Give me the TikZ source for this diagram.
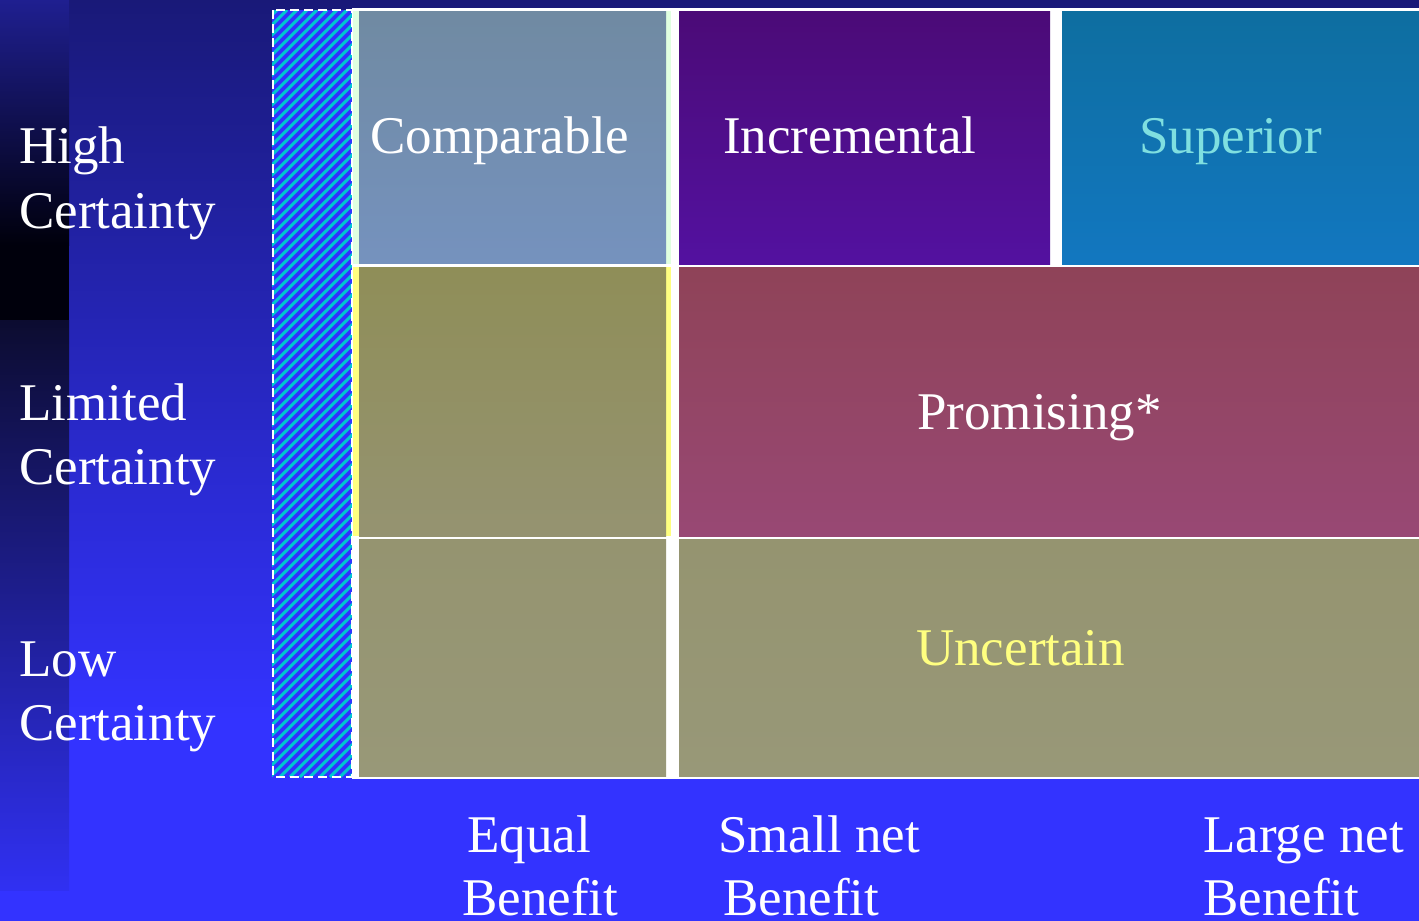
\documentclass[tikz,border=0pt]{standalone}
\usepackage{fontspec}
\setmainfont{Liberation Serif}
\begin{document}
\definecolor{bgtop}{HTML}{191978}
\definecolor{bgbot}{HTML}{3333FF}
\definecolor{striptop}{HTML}{1F1F90}
\definecolor{stripdark}{HTML}{00000C}
\definecolor{stripmid}{HTML}{0C0C30}
\definecolor{hatchcyan}{HTML}{00C8D0}
\definecolor{comptop}{HTML}{708AA2}
\definecolor{compbot}{HTML}{7592BE}
\definecolor{incrtop}{HTML}{4B0B77}
\definecolor{incrbot}{HTML}{5311A0}
\definecolor{suptop}{HTML}{0E6EA0}
\definecolor{supbot}{HTML}{1277C0}
\definecolor{promtop}{HTML}{8F4358}
\definecolor{prombot}{HTML}{984874}
\definecolor{olivetop}{HTML}{8F8E58}
\definecolor{olivebot}{HTML}{959371}
\definecolor{lowtop}{HTML}{959470}
\definecolor{lowbot}{HTML}{989878}
\definecolor{lightgreen}{HTML}{E0FFE0}
\definecolor{paleyellow}{HTML}{FFFF80}
\definecolor{supertext}{HTML}{7FDFE0}
\begin{tikzpicture}[x=1pt,y=-1pt,
  lbl/.style={anchor=base west, inner sep=0pt, font=\fontsize{53}{65}\selectfont},
  celltext/.style={lbl, text=white}]
\useasboundingbox (0,0) rectangle (1419,921);
% background gradient
\shade[top color=bgtop, bottom color=bgbot] (0,0) rectangle (1419,720);
\fill[bgbot] (0,720) rectangle (1419,921);
% darker left strip
\shade[top color=striptop, bottom color=stripdark] (0,0) rectangle (69,245);
\fill[stripdark] (0,245) rectangle (69,320);
\shade[top color=stripmid, bottom color=bgbot!95!black] (0,320) rectangle (69,890);
% hatched column
\begin{scope}
  \clip (272,10) rectangle (352,777);
  \fill[bgbot] (272,10) rectangle (352,777);
  \foreach \a in {-500,-490,...,360}
    \draw[hatchcyan, line width=3pt] (\a,777) -- ++(767,-767);
\end{scope}
\draw[white, line width=2.5pt, dash pattern=on 9pt off 5pt] (273,10) rectangle (352,777);
% table backing
\fill[white] (352,8) rectangle (1419,779);
% first column
\fill[lightgreen] (353,11) rectangle (671,264);
\shade[top color=comptop, bottom color=compbot] (359,11) rectangle (666,263);
\fill[paleyellow] (353,267) rectangle (671,536);
\shade[top color=olivetop, bottom color=olivebot] (359,267) rectangle (666,536);
\shade[top color=lowtop, bottom color=lowbot] (359,539) rectangle (666,776);
% remaining cells
\shade[top color=incrtop, bottom color=incrbot] (679,11) rectangle (1050,264);
\shade[top color=suptop, bottom color=supbot] (1062,11) rectangle (1419,264);
\shade[top color=promtop, bottom color=prombot] (679,267) rectangle (1419,536);
\shade[top color=lowtop, bottom color=lowbot] (679,539) rectangle (1419,776);
% cell texts
\node[celltext] (comparable) at (370,153) {Comparable};
\node[celltext] (incremental) at (723,153) {Incremental};
\node[lbl, text=supertext] (superior) at (1139,153) {Superior};
\node[celltext] (promising) at (917,429) {Promising*};
\node[lbl, text=paleyellow] (uncertain) at (916,665) {Uncertain};
% row labels
\node[celltext] (high) at (19,163) {High};
\node[celltext] (highc) at (19,228) {Certainty};
\node[celltext] (limited) at (19,420) {Limited};
\node[celltext] (limitedc) at (19,484) {Certainty};
\node[celltext] (low) at (19,676) {Low};
\node[celltext] (lowc) at (19,740) {Certainty};
% column labels
\node[celltext] (equal) at (467,852) {Equal};
\node[celltext] (equalb) at (462,915) {Benefit};
\node[celltext] (small) at (718,852) {Small net};
\node[celltext] (smallb) at (723,915) {Benefit};
\node[celltext] (large) at (1203,852) {Large net};
\node[celltext] (largeb) at (1203,915) {Benefit};
\end{tikzpicture}
\end{document}
